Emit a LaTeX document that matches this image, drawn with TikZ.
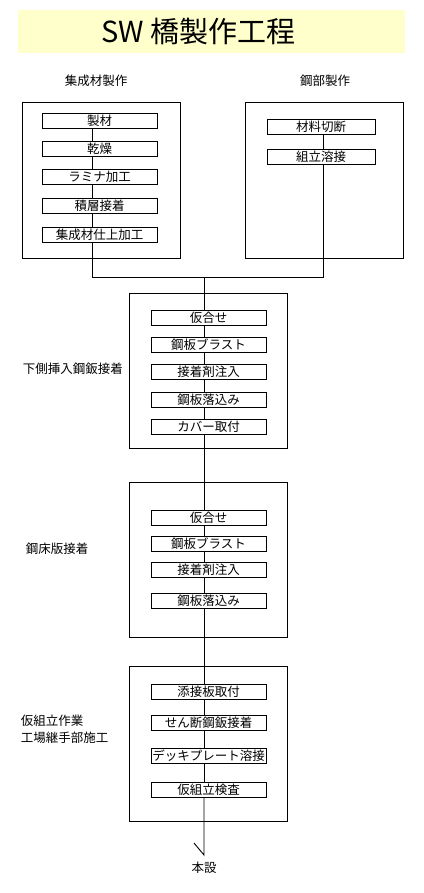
\documentclass[tikz,border=0pt]{standalone}
\usepackage{fontspec}
\setmainfont{Noto Sans CJK JP}
\usepackage{tikz}
\definecolor{titlebg}{HTML}{FFFFCC}

\begin{document}
\begin{tikzpicture}[x=1pt,y=-1pt,line width=0.9pt,
    every node/.style={font=\fontsize{12.5}{15}\selectfont},
    stage/.style={rectangle,draw,minimum width=158pt,inner sep=0pt},
    proc/.style={rectangle,draw,fill=white,minimum width=115pt,minimum height=15pt,inner sep=0pt}]
\useasboundingbox (0,0) rectangle (423,893);

\node[fill=titlebg,minimum width=387pt,minimum height=43pt,inner sep=0pt] (band) at (211.5,31.5) {};
\node[font=\fontsize{29}{34}\selectfont] (title) at (198.5,32) {SW 橋製作工程};

\node (glulam) at (96,81) {集成材製作};
\node (steel) at (325,81) {鋼部製作};

% outer boxes
\node[stage,minimum height=156pt] (g) at (101,180) {};
\node[stage,minimum height=156pt] (s) at (324,180) {};
\node[stage,minimum height=155pt] (p) at (208,370.5) {};
\node[stage,minimum height=155pt] (q) at (208,559.5) {};
\node[stage,minimum height=155pt] (t) at (208,743.5) {};

\coordinate (lx) at (92,0);
\coordinate (rx) at (323,0);
\coordinate (j) at (204,277);

% glulam
\node[proc] (g1) at (99.5,120.5) {製材};
\node[proc] (g2) at (99.5,148.5) {乾燥};
\node[proc] (g3) at (99.5,176.5) {ラミナ加工};
\node[proc] (g4) at (99.5,205.5) {積層接着};
\node[proc] (g5) at (99.5,235) {集成材仕上加工};

% steel parts
\node[proc,minimum width=108pt] (s1) at (321,127) {材料切断};
\node[proc,minimum width=108pt] (s2) at (321,157) {組立溶接};

% stage 2
\node[anchor=west] (plab) at (19,369) {下側挿入鋼鈑接着};
\node[proc] (p1) at (208.5,318) {仮合せ};
\node[proc] (p2) at (208.5,345) {鋼板ブラスト};
\node[proc] (p3) at (208.5,372) {接着剤注入};
\node[proc] (p4) at (208.5,399.5) {鋼板落込み};
\node[proc] (p5) at (208.5,426.5) {カバー取付};

% stage 3
\node[anchor=west] (qlab) at (22,549) {鋼床版接着};
\node[proc] (q1) at (208.5,518) {仮合せ};
\node[proc] (q2) at (208.5,544) {鋼板ブラスト};
\node[proc] (q3) at (208.5,569.5) {接着剤注入};
\node[proc] (q4) at (208.5,600.5) {鋼板落込み};

% stage 4
\node[anchor=west] (tlab1) at (17,721) {仮組立作業};
\node[anchor=west] (tlab2) at (17,738) {工場継手部施工};
\node[proc] (t1) at (208.5,691.5) {添接板取付};
\node[proc] (t2) at (208.5,723) {せん断鋼鈑接着};
\node[proc] (t3) at (208.5,755.5) {デッキプレート溶接};
\node[proc] (t4) at (208.5,789.5) {仮組立検査};

\coordinate (end) at (204,855);
\node (hon) at (204,868) {本設};

% connectors
\draw (g1.south -| lx) -- (g2.north -| lx);
\draw (g2.south -| lx) -- (g3.north -| lx);
\draw (g3.south -| lx) -- (g4.north -| lx);
\draw (g4.south -| lx) -- (g5.north -| lx);
\draw (s1.south -| rx) -- (s2.north -| rx);
\draw (g5.south -| lx) |- (j);
\draw (s2.south -| rx) |- (j);
\draw (j) -- (p1.north -| j);
\draw (p1.south -| j) -- (p2.north -| j);
\draw (p2.south -| j) -- (p3.north -| j);
\draw (p3.south -| j) -- (p4.north -| j);
\draw (p4.south -| j) -- (p5.north -| j);
\draw (p5.south -| j) -- (q1.north -| j);
\draw (q1.south -| j) -- (q2.north -| j);
\draw (q2.south -| j) -- (q3.north -| j);
\draw (q3.south -| j) -- (q4.north -| j);
\draw (q4.south -| j) -- (t1.north -| j);
\draw (t1.south -| j) -- (t2.north -| j);
\draw (t2.south -| j) -- (t3.north -| j);
\draw (t3.south -| j) -- (t4.north -| j);
\draw (t4.south -| j) -- (end) -- ++(-10,-12);
\end{tikzpicture}
\end{document}
